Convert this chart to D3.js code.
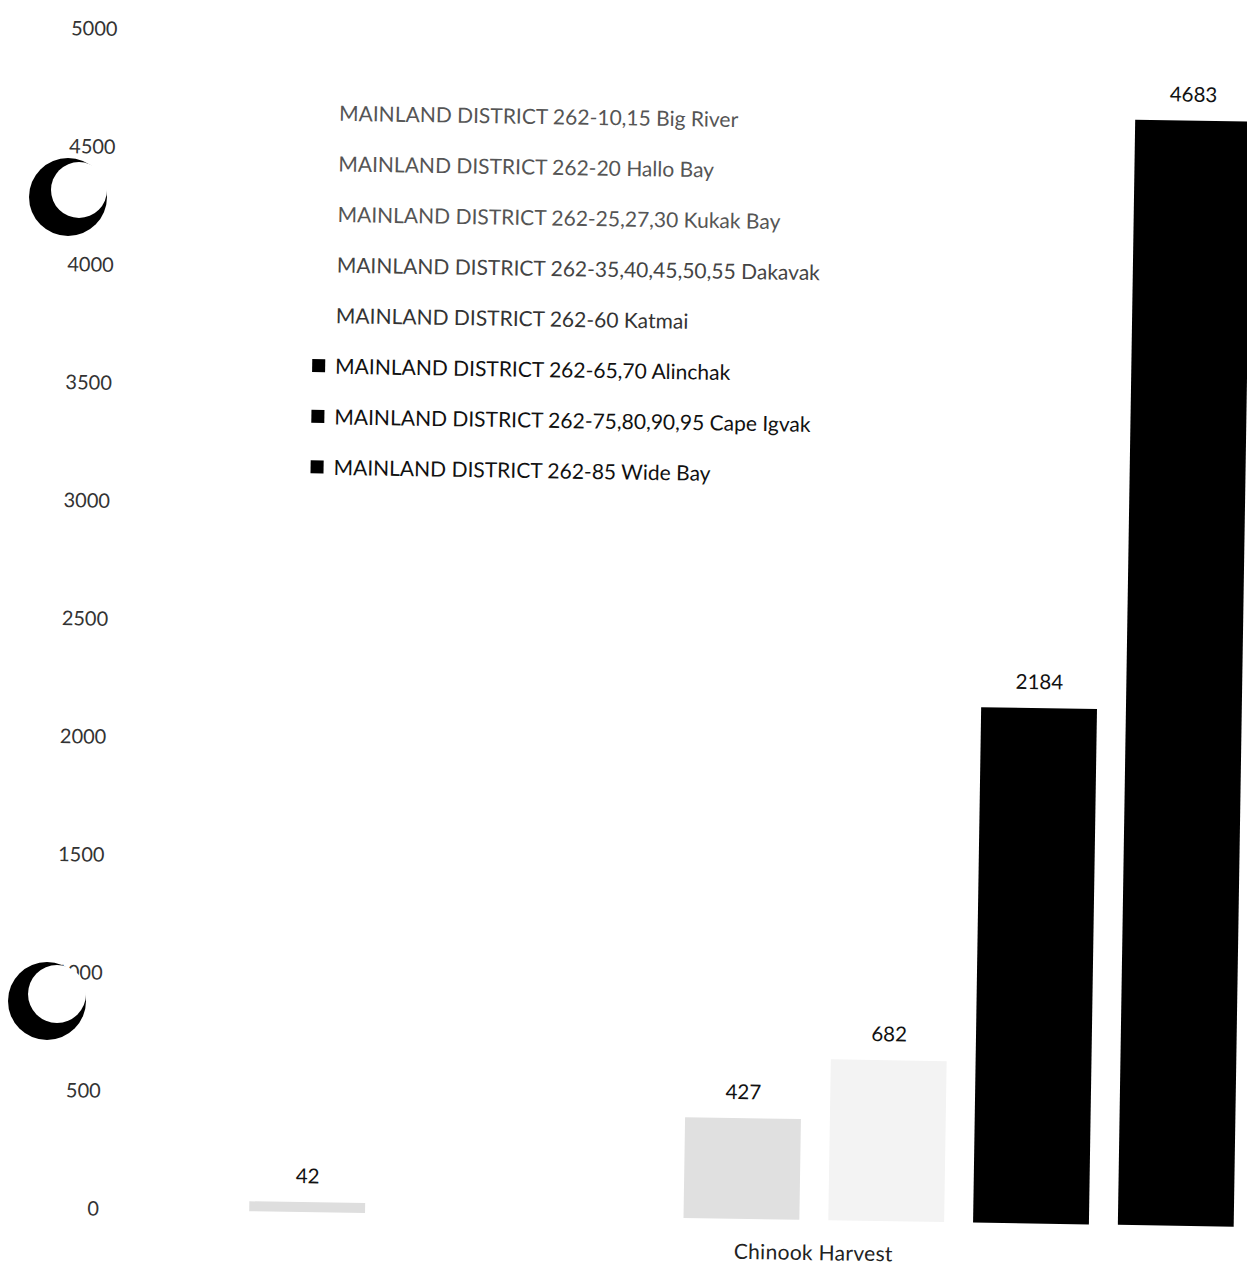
<!DOCTYPE html>
<html>
<head>
<meta charset="utf-8">
<script src="https://cdn.jsdelivr.net/npm/d3@7"></script>
<style>
  html, body { margin: 0; padding: 0; background: #fff; overflow: hidden; }
  svg { display: block; font-family: Lato, "Open Sans", sans-serif; }
</style>
</head>
<body>
<svg id="chart"></svg>
<script>
const width = 1247, height = 1268;

// data
const categories = ['Chinook Harvest'];
const seriesNames = [
  'MAINLAND DISTRICT 262-10,15 Big River',
  'MAINLAND DISTRICT 262-20 Hallo Bay',
  'MAINLAND DISTRICT 262-25,27,30 Kukak Bay',
  'MAINLAND DISTRICT 262-35,40,45,50,55 Dakavak',
  'MAINLAND DISTRICT 262-60 Katmai',
  'MAINLAND DISTRICT 262-65,70 Alinchak',
  'MAINLAND DISTRICT 262-75,80,90,95 Cape Igvak',
  'MAINLAND DISTRICT 262-85 Wide Bay'
];
const seriesValues = [42, null, null, 427, 682, 2184, 4683, null];  // last bar is cut off the page
const yTicks = [0, 500, 1000, 1500, 2000, 2500, 3000, 3500, 4000, 4500, 5000];

// styles (scanned greyscale look)
const seriesColors = ['#dedede', '#efefef', '#efefef', '#e0e0e0', '#f3f3f3', '#000', '#000', '#000'];
const legendTextColors = ['#555', '#555', '#555', '#444', '#333', '#111', '#111', '#111'];

const svg = d3.select('#chart').attr('width', width).attr('height', height);

// the scan is tilted a little clockwise
const page = svg.append('g').attr('transform', 'rotate(0.9, 623, 634)');

const plotLeft = 116, plotRight = 1530, yBase = 1217, yTop = 37;

const y = d3.scaleLinear().domain([0, 5000]).range([yBase, yTop]);

const x0 = d3.scaleBand().domain(categories)
  .range([plotLeft, plotRight]).paddingInner(0).paddingOuter(0.126);
const x1 = d3.scaleBand().domain(seriesNames)
  .range([0, x0.bandwidth()]).paddingInner(0.2).paddingOuter(0);

// y axis: labels only
const yAxis = page.append('g')
  .attr('transform', `translate(${plotLeft},0)`)
  .call(d3.axisLeft(y).tickValues(yTicks).tickSize(0).tickPadding(8).tickFormat(d3.format('d')));
yAxis.select('.domain').remove();
yAxis.selectAll('text')
  .attr('fill', '#333').style('font-size', '20px').style('font-family', 'Lato, sans-serif');

// bars
const bars = seriesNames.map((name, i) => ({ name, value: seriesValues[i], color: seriesColors[i] }))
  .filter(d => d.value !== null);

const group = page.append('g').attr('transform', `translate(${x0(categories[0])},0)`);

group.selectAll('rect.bar')
  .data(bars)
  .join('rect')
  .attr('class', 'bar')
  .attr('x', d => x1(d.name))
  .attr('width', x1.bandwidth())
  .attr('y', d => y(d.value))
  .attr('height', d => y(0) - y(d.value))
  .attr('fill', d => d.color);

group.selectAll('text.val')
  .data(bars)
  .join('text')
  .attr('class', 'val')
  .attr('x', d => x1(d.name) + x1.bandwidth() / 2)
  .attr('y', d => y(d.value) - 19)
  .attr('text-anchor', 'middle')
  .attr('fill', '#111')
  .style('font-size', '20.5px')
  .text(d => d.value);

// category label
page.append('text')
  .attr('x', x0(categories[0]) + x0.bandwidth() / 2)
  .attr('y', 1257)
  .attr('text-anchor', 'middle')
  .attr('fill', '#222')
  .style('font-size', '21px')
  .style('letter-spacing', '0.3px')
  .text(categories[0]);

// legend
const legend = page.append('g').attr('transform', 'translate(308,118)');
const item = legend.selectAll('g.item')
  .data(seriesNames)
  .join('g')
  .attr('class', 'item')
  .attr('transform', (d, i) => `translate(0,${i * 50.6})`);

item.append('rect')
  .attr('x', 0).attr('y', -7)
  .attr('width', 13).attr('height', 13)
  .attr('fill', (d, i) => i < 5 ? '#fff' : seriesColors[i]);

item.append('text')
  .attr('x', 23).attr('y', 0)
  .attr('dy', '0.35em')
  .attr('fill', (d, i) => legendTextColors[i])
  .style('font-size', '21px')
  .text(d => d);

// binder punch holes from the scan
const holes = [
  { cx: 68, cy: 197, r: 39, ix: 79, iy: 190, ir: 28 },
  { cx: 47, cy: 1001, r: 39, ix: 57, iy: 994, ir: 29 }
];
const holeG = svg.append('g');
holes.forEach(h => {
  holeG.append('circle').attr('cx', h.cx).attr('cy', h.cy).attr('r', h.r).attr('fill', '#000');
  holeG.append('circle').attr('cx', h.ix).attr('cy', h.iy).attr('r', h.ir).attr('fill', '#fff');
});
</script>
</body>
</html>
